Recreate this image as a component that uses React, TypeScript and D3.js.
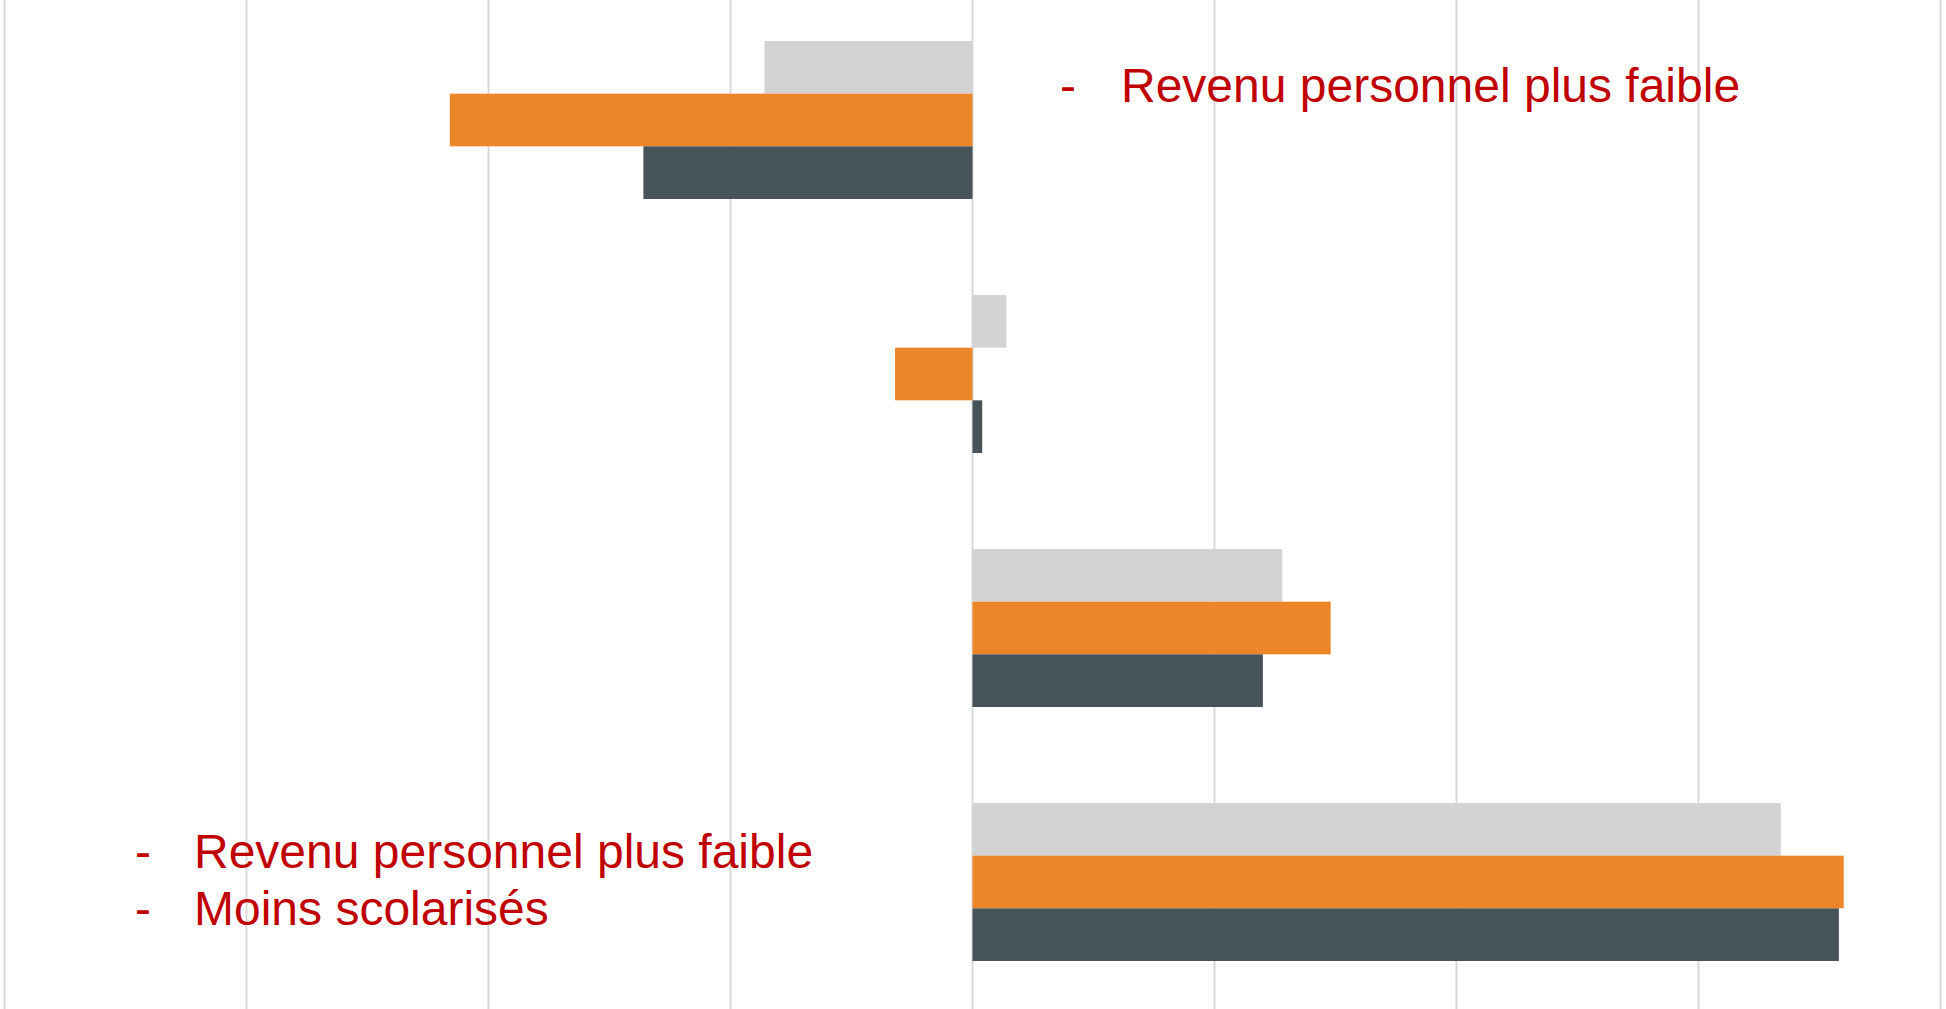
import React, { useEffect, useRef } from 'react';
import * as d3 from 'd3';

// values (one gridline = 5 units)
const categories = ['Groupe A', 'Groupe B', 'Groupe C', 'Groupe D'];
const seriesNames = ['Série grise', 'Série orange', 'Série ardoise'];
const serieGrise = [-4.3, 0.7, 6.4, 16.7];
const serieOrange = [-10.8, -1.6, 7.4, 18.0];
const serieArdoise = [-6.8, 0.2, 6.0, 17.9];
const xTicks = [-20, -15, -10, -5, 0, 5, 10, 15, 20];

const noteHaut = ['Revenu personnel plus faible'];
const noteBas = ['Revenu personnel plus faible', 'Moins scolarisés'];

const colors = ['#d3d3d3', '#ed8628', '#465359'];

const App = () => {
    const ref = useRef<SVGSVGElement>(null);

    useEffect(() => {
        const svg = d3.select(ref.current);
        svg.selectAll('*').remove();

        const width = 1946;
        const height = 1009;

        const x = d3.scaleLinear().domain([-20, 20]).range([4.5, 1940.5]);
        const y = d3.scaleBand<string>()
            .domain(categories)
            .range([-7, height])
            .paddingInner(0.378)
            .paddingOuter(0.189);
        const ySub = d3.scaleBand<string>()
            .domain(seriesNames)
            .range([0, y.bandwidth()]);

        // vertical gridlines
        svg.append('g')
            .selectAll('line')
            .data(xTicks)
            .join('line')
            .attr('x1', d => x(d))
            .attr('x2', d => x(d))
            .attr('y1', 0)
            .attr('y2', height)
            .attr('stroke', '#d9d9d9')
            .attr('stroke-width', 2);

        const series = [serieGrise, serieOrange, serieArdoise];
        const rows = categories.flatMap((c, i) =>
            series.map((s, j) => ({ cat: c, name: seriesNames[j], value: s[i], color: colors[j] }))
        );

        svg.append('g')
            .selectAll('rect')
            .data(rows)
            .join('rect')
            .attr('x', d => x(Math.min(0, d.value)))
            .attr('width', d => Math.abs(x(d.value) - x(0)))
            .attr('y', d => (y(d.cat) as number) + (ySub(d.name) as number))
            .attr('height', ySub.bandwidth())
            .attr('fill', d => d.color);

        const fontSize = 48;
        const drawNote = (lines: string[], dashX: number, textX: number, baseline: number) => {
            const g = svg.append('g')
                .attr('fill', '#c00000')
                .style('font-family', '"Liberation Sans", Arial, sans-serif')
                .style('font-size', fontSize + 'px');
            lines.forEach((t, i) => {
                const yy = baseline + i * 57.7;
                g.append('text').attr('x', dashX).attr('y', yy).text('-');
                g.append('text').attr('x', textX).attr('y', yy).text(t);
            });
        };

        drawNote(noteHaut, 1060, 1121, 102);
        drawNote(noteBas, 135, 194, 867.5);

        svg.attr('width', width).attr('height', height);
    }, []);

    return (
        <svg
            ref={ref}
            width={1946}
            height={1009}
            style={{ position: 'absolute', left: 0, top: 0, background: '#fff' }}
        />
    );
};

export default App;
